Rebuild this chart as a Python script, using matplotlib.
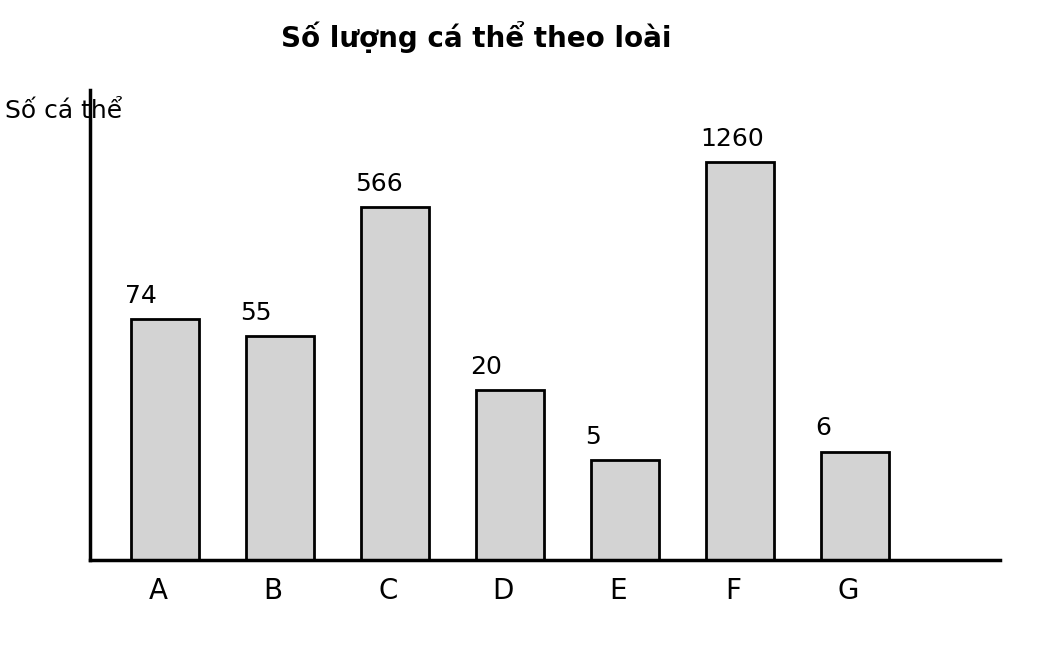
import numpy as np
import matplotlib
matplotlib.use("Agg")
import matplotlib.pyplot as plt

categories = ["A", "B", "C", "D", "E", "F", "G"]
counts = [74, 55, 566, 20, 5, 1260, 6]

heights = np.log10(np.array(counts) + 1)
x = np.arange(len(categories))

fig = plt.figure(figsize=(10.5, 6.5), dpi=100)
ax = fig.add_axes([90/1050, 1 - 560/650, 910/1050, 470/650])

ax.bar(x, heights, width=0.59, color="#d3d3d3", edgecolor="black", linewidth=2)

for xi, h, c in zip(x, heights, counts):
    ax.annotate(str(c), (xi - 0.35, h), xytext=(0, 8), textcoords="offset points",
                ha="left", va="bottom", fontsize=18)

ax.set_xlim(-0.652, 7.26)
ax.set_ylim(0, 470/128.3)
ax.set_xticks(x - 0.06)
ax.set_xticklabels(categories, fontsize=20)
ax.tick_params(axis="x", length=0, pad=12)
ax.set_yticks([])
for s in ["top", "right"]:
    ax.spines[s].set_visible(False)
for s in ["left", "bottom"]:
    ax.spines[s].set_linewidth(2.5)

fig.text(476/1050, 1 - 37/650, "Số lượng cá thể theo loài", ha="center", va="center",
         fontsize=20, fontweight="bold")
fig.text(5/1050, 1 - 111/650, "Số cá thể", ha="left", va="center", fontsize=18)

fig.savefig("out.png", dpi=100)
